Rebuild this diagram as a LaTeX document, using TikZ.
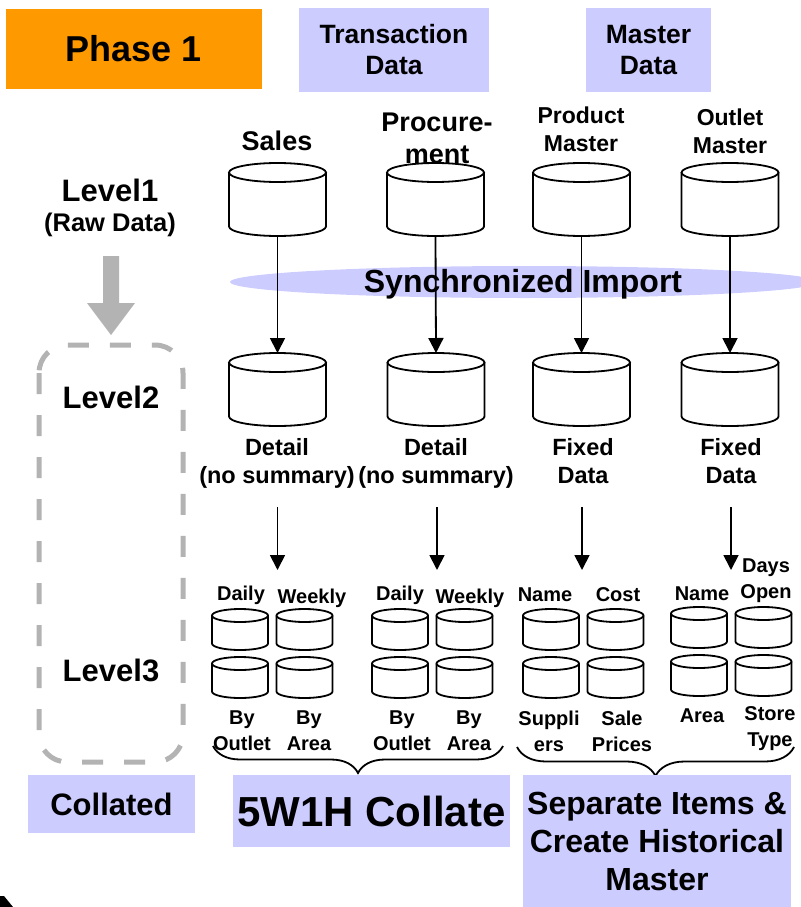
\documentclass[tikz,border=0pt]{standalone}
\usepackage{fontspec}
\setmainfont{Liberation Sans}
\usetikzlibrary{arrows.meta,decorations.pathreplacing}

\definecolor{lav}{RGB}{204,204,255}
\definecolor{phaseorange}{RGB}{255,153,0}
\definecolor{guide}{RGB}{179,179,179}

\newcommand{\fsz}[2]{\fontsize{#1pt}{#2pt}\selectfont}

% database cylinder: name, centre x, top y, x radius, height, y radius
\newcommand{\dbcyl}[6]{%
  \node[dbslot, minimum width=2*#4pt, minimum height=#5pt, anchor=north] (#1) at (#2,#3) {};
  \draw[dbline] ([yshift=-#6pt]#1.north west) -- ([yshift=#6pt]#1.south west)
     arc[start angle=180, end angle=360, x radius=#4pt, y radius=#6pt]
     -- ([yshift=-#6pt]#1.north east);
  \draw[dbline] ([yshift=-#6pt]#1.north) ellipse[x radius=#4pt, y radius=#6pt];
}

\tikzset{
  dbslot/.style={draw=none, inner sep=0pt, outer sep=0pt},
  dbline/.style={line width=1.8pt},
  flow/.style={line width=1.8pt, -{Triangle[length=15pt,width=15pt]}},
  lbl/.style={font=\bfseries, align=center, inner sep=0pt},
  tag/.style={fill=lav, inner sep=0pt, align=center},
  bracket/.style={line width=1.8pt, decorate, decoration={brace, amplitude=#1}},
}

\begin{document}
\begin{tikzpicture}[x=1pt, y=-1pt]
\useasboundingbox (0,0) rectangle (800,907);

% header boxes
\node[fill=phaseorange, minimum width=256pt, minimum height=80pt, inner sep=0pt,
      font=\bfseries\fsz{36}{40}] (phase) at (134,49) {Phase 1};
\node[tag, minimum width=190pt, minimum height=84pt, font=\bfseries\fsz{26.5}{31}]
      (trans) at (394,50) {Transaction\\Data};
\node[tag, minimum width=125pt, minimum height=84pt, font=\bfseries\fsz{26.5}{31}]
      (mast) at (648.5,50) {Master\\Data};

% level captions
\node[lbl, font=\bfseries\fsz{31}{34}] (lev1) at (110,190) {Level1};
\node[lbl, font=\bfseries\fsz{25.5}{30}] (raw) at (110,225) {(Raw Data)};
\node[lbl, font=\bfseries\fsz{31}{34}] (lev2) at (111,397) {Level2};
\node[lbl, font=\bfseries\fsz{31}{34}] (lev3) at (111,670) {Level3};

% grey down arrow and dashed frame
\fill[guide] (103,256) -- (119,256) -- (119,303) -- (135,303) -- (111,335)
             -- (87,303) -- (103,303) -- cycle;
\draw[guide, line width=5pt, dash pattern=on 21pt off 21pt, rounded corners=28pt]
      (39,345) rectangle (183,762);

% synchronized import band
\fill[lav] (524,282) ellipse[x radius=294pt, y radius=16pt];
\node[lbl, font=\bfseries\fsz{32}{34}] (sync) at (523,284) {Synchronized Import};

% level 1 sources
\node[lbl, font=\bfseries\fsz{27}{31}] (tSales) at (277,141) {Sales};
\node[lbl, font=\bfseries\fsz{27}{32}] (tProc) at (437,138) {Procure-\\ment};
\node[lbl, font=\bfseries\fsz{23}{28}] (tProd) at (581,129) {Product\\Master};
\node[lbl, font=\bfseries\fsz{23}{28}] (tOut) at (730,131) {Outlet\\Master};

\dbcyl{rSales}{277.5}{163}{48.5}{73}{9.5}
\dbcyl{rProc}{435.5}{163}{48.5}{73}{9.5}
\dbcyl{rProd}{581.5}{163}{48.5}{73}{9.5}
\dbcyl{rOut}{730}{163}{48.5}{73}{9.5}

% level 2 stores
\dbcyl{dSales}{277.5}{353}{48.5}{73}{9.5}
\dbcyl{dProc}{436}{353}{48.5}{73}{9.5}
\dbcyl{dProd}{581.5}{353}{48.5}{73}{9.5}
\dbcyl{dOut}{730}{353}{48.5}{73}{9.5}

\draw[flow] (rSales.south) -- (dSales.north);
\draw[flow] (rProc.south) -- (dProc.north);
\draw[flow] (rProd.south) -- (dProd.north);
\draw[flow] (rOut.south) -- (dOut.north);

\node[lbl, font=\bfseries\fsz{23.5}{28}] (nSales) at (277,463) {Detail\\(no summary)};
\node[lbl, font=\bfseries\fsz{23.5}{28}] (nProc) at (436,463) {Detail\\(no summary)};
\node[lbl, font=\bfseries\fsz{23.5}{28}] (nProd) at (583,461) {Fixed\\Data};
\node[lbl, font=\bfseries\fsz{23.5}{28}] (nOut) at (731,461) {Fixed\\Data};

% arrows into level 3
\coordinate (fS1) at (277.5,507); \coordinate (fS2) at (277.5,570);
\coordinate (fP1) at (437,507);   \coordinate (fP2) at (437,570);
\coordinate (fD1) at (582,507);   \coordinate (fD2) at (582,570);
\coordinate (fO1) at (731,507);   \coordinate (fO2) at (731,570);
\draw[flow] (fS1) -- (fS2);
\draw[flow] (fP1) -- (fP2);
\draw[flow] (fD1) -- (fD2);
\draw[flow] (fO1) -- (fO2);

% level 3 stores
\dbcyl{sDaily}{240}{609}{28}{41}{6.5}
\dbcyl{sWeekly}{304.5}{609}{28}{41}{6.5}
\dbcyl{sOutlet}{240}{657}{28}{41}{6.5}
\dbcyl{sArea}{304.5}{657}{28}{41}{6.5}

\dbcyl{pDaily}{400}{609}{28}{41}{6.5}
\dbcyl{pWeekly}{464.5}{609}{28}{41}{6.5}
\dbcyl{pOutlet}{400}{657}{28}{41}{6.5}
\dbcyl{pArea}{464.5}{657}{28}{41}{6.5}

\dbcyl{mName}{551}{609}{28}{41}{6.5}
\dbcyl{mCost}{615.5}{609}{28}{41}{6.5}
\dbcyl{mSupp}{551}{657}{28}{41}{6.5}
\dbcyl{mPrice}{615.5}{657}{28}{41}{6.5}

\dbcyl{oName}{699}{607}{28}{41}{6.5}
\dbcyl{oDays}{763.5}{607}{28}{41}{6.5}
\dbcyl{oArea}{699}{655}{28}{41}{6.5}
\dbcyl{oType}{763.5}{655}{28}{41}{6.5}

\tikzset{small/.style={lbl, font=\bfseries\fsz{20}{26}}}
\node[small] at (241,595) {Daily};
\node[small] at (312,598) {Weekly};
\node[small] at (400,595) {Daily};
\node[small] at (470,598) {Weekly};
\node[small] at (545,595) {Name};
\node[small] at (618,595) {Cost};
\node[small] at (702,594) {Name};
\node[small] at (766,581) {Days\\Open};

\node[small] at (242,731) {By\\Outlet};
\node[small] at (309,731) {By\\Area};
\node[small] at (402,731) {By\\Outlet};
\node[small] at (469,731) {By\\Area};
\node[small] at (549,731) {Suppli\\ers};
\node[small] at (622,731) {Sale\\Prices};
\node[small] at (702,716) {Area};
\node[small] at (770,729) {Store\\Type};

% braces
\coordinate (b1l) at (213,746); \coordinate (b1r) at (503,746);
\coordinate (b2l) at (517,747); \coordinate (b2r) at (794,747);
\draw[bracket=27pt] (b1r) -- (b1l);
\draw[bracket=29pt] (b2r) -- (b2l);

% bottom captions
\node[tag, minimum width=167pt, minimum height=58pt, font=\bfseries\fsz{31}{34}]
      (coll) at (111.5,804) {Collated};
\node[tag, minimum width=277pt, minimum height=72pt, font=\bfseries\fsz{42}{46}]
      (w5h) at (371.5,811) {5W1H Collate};
\node[tag, minimum width=268pt, minimum height=132pt, font=\bfseries\fsz{32}{38}]
      (sep) at (657,841) {Separate Items \&\\Create Historical\\Master};

% corner wedge
\fill (0,896) -- (4,896) -- (13,907) -- (0,907) -- cycle;
\end{tikzpicture}
\end{document}
